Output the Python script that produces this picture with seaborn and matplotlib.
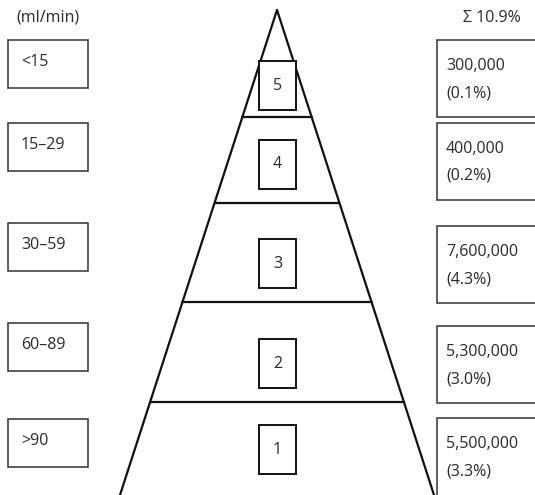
import numpy as np
import pandas as pd
import seaborn as sns
import matplotlib
matplotlib.use('Agg')
import matplotlib.pyplot as plt
from matplotlib.patches import Rectangle

# CKD stages, top of the pyramid first
stages = ["5", "4", "3", "2", "1"]
gfr_labels = ["<15", "15\u201329", "30\u201359", "60\u201389", ">90"]
patients = ["300,000", "400,000", "7,600,000", "5,300,000", "5,500,000"]
shares = ["(0.1%)", "(0.2%)", "(4.3%)", "(3.0%)", "(3.3%)"]
unit_label = "(ml/min)"
total_label = "\u03a3 10.9%"

sns.set_theme(style="white")
plt.rcParams['font.family'] = ['Open Sans', 'DejaVu Sans']

W, H = 535, 495
fig = plt.figure(figsize=(W / 100, H / 100), dpi=100)
ax = fig.add_axes([0, 0, 1, 1])
ax.set_xlim(0, W)
ax.set_ylim(H, 0)
ax.axis('off')

# layout (pixel space)
apex_x, apex_y = 277, 10
slope = 157 / 485          # half width per pixel below apex
band_lines = [117, 203, 302, 402]
num_box_top = [61, 140, 239, 339, 425]
left_box_top = [40, 123, 223, 323, 419]
right_box_top = [40, 123, 226, 326, 418]
right_box_h = [77, 77, 77, 77, 120]
line_col = "#111111"
box_col = "#333333"
txt_col = "#2a2a2a"

# pyramid outline
ys = np.array([apex_y, H + 20])
outline = pd.DataFrame({
    "x": np.concatenate([apex_x - slope * (ys - apex_y), apex_x + slope * (ys - apex_y)]),
    "y": np.concatenate([ys, ys]),
    "side": ["l", "l", "r", "r"],
})
for _, g in outline.groupby("side"):
    sns.lineplot(data=g, x="x", y="y", ax=ax, color=line_col, lw=1.6,
                 sort=False, estimator=None)
for y in band_lines:
    hw = slope * (y - apex_y)
    ax.plot([apex_x - hw, apex_x + hw], [y, y], color=line_col, lw=1.6)

fs = 11.5
for i, st in enumerate(stages):
    # stage number box
    t = num_box_top[i]
    ax.add_patch(Rectangle((259, t), 37, 49, facecolor="white",
                           edgecolor=line_col, lw=1.4, zorder=3))
    ax.text(277.5, t + 24.5, st, ha="center", va="center", fontsize=fs,
            color=txt_col, zorder=4)
    # GFR box
    t = left_box_top[i]
    ax.add_patch(Rectangle((8, t), 80, 48, facecolor="white",
                           edgecolor=box_col, lw=1.1))
    ax.text(21, t + 22, gfr_labels[i], ha="left", va="center", fontsize=fs,
            color=txt_col)
    # patient count box
    t = right_box_top[i]
    ax.add_patch(Rectangle((437, t), 110, right_box_h[i], facecolor="white",
                           edgecolor=box_col, lw=1.1))
    ax.text(446, t + 26, patients[i], ha="left", va="center", fontsize=fs,
            color=txt_col)
    ax.text(446, t + 53, shares[i], ha="left", va="center", fontsize=fs,
            color=txt_col)

ax.text(48, 18, unit_label, ha="center", va="center", fontsize=fs, color=txt_col)
ax.text(492, 18, total_label, ha="center", va="center", fontsize=fs, color=txt_col)

fig.savefig("out.png", dpi=100)
